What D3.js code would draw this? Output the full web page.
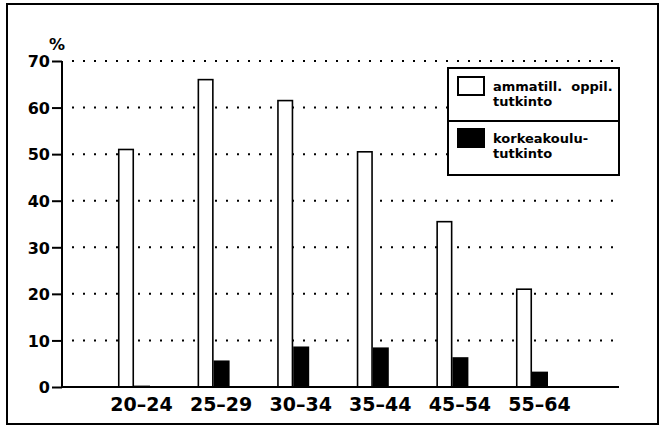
<!DOCTYPE html>
<html>
<head>
<meta charset="utf-8">
<script src="https://cdn.jsdelivr.net/npm/d3@7"></script>
<style>
  html, body { margin: 0; padding: 0; background: #fff; }
  svg { display: block; }
  text { font-family: "DejaVu Sans", sans-serif; font-weight: bold; fill: #000; }
</style>
</head>
<body>
<svg id="chart" width="661" height="427"></svg>
<script>
// ---- data ----
const categories = ["20-24", "25-29", "30-34", "35-44", "45-54", "55-64"];
const seriesNames = ["ammatill. oppil. tutkinto", "korkeakoulu-tutkinto"];
const vocational = [51, 66, 61.5, 50.5, 35.5, 21];
const university = [0.3, 5.7, 8.7, 8.5, 6.4, 3.3];
const yTicks = [0, 10, 20, 30, 40, 50, 60, 70];
const legendLines = [["ammatill.  oppil.", "tutkinto"], ["korkeakoulu-", "tutkinto"]];
const yUnit = "%";

const svg = d3.select("#chart");

// outer frame
svg.append("rect").attr("x", 7).attr("y", 4).attr("width", 651).attr("height", 420)
  .attr("fill", "none").attr("stroke", "#000").attr("stroke-width", 2);

const x = d3.scaleBand().domain(categories).range([118, 548]).paddingInner(0.598).paddingOuter(0);
const xs = d3.scaleBand().domain(seriesNames).range([0, x.bandwidth()]);
const y = d3.scaleLinear().domain([0, 70]).range([387, 61]);

// dotted grid
svg.append("g").selectAll("line").data(yTicks.filter(d => d > 0)).join("line")
  .attr("x1", 72).attr("x2", 616)
  .attr("y1", d => y(d)).attr("y2", d => y(d))
  .attr("stroke", "#000").attr("stroke-width", 2)
  .attr("stroke-dasharray", "2 9");

// bars
const rows = categories.map((c, i) => ({ c, v: [vocational[i], university[i]] }));
const g = svg.append("g");
rows.forEach(r => {
  r.v.forEach((v, j) => {
    const s = seriesNames[j];
    g.append("rect")
      .attr("x", x(r.c) + xs(s) + (j === 0 ? 0.75 : 0))
      .attr("y", y(v))
      .attr("width", xs.bandwidth() - (j === 0 ? 1.5 : 0))
      .attr("height", y(0) - y(v))
      .attr("fill", j === 0 ? "#fff" : "#000")
      .attr("stroke", j === 0 ? "#000" : "none")
      .attr("stroke-width", 1.6);
  });
});

// y axis
const yAxis = d3.axisLeft(y).tickValues(yTicks).tickSize(10).tickPadding(2).tickFormat(d3.format("d"));
const yg = svg.append("g").attr("transform", "translate(62,0)").call(yAxis);
yg.select(".domain").remove();
yg.selectAll(".tick line").attr("stroke", "#000").attr("stroke-width", 2);
yg.selectAll(".tick text").style("font-size", "16px").style("font-family", '"DejaVu Sans", sans-serif')
  .style("font-weight", "bold").attr("dy", "0.36em");
svg.append("line").attr("x1", 62).attr("x2", 62).attr("y1", y(70)).attr("y2", y(0))
  .attr("stroke", "#000").attr("stroke-width", 2);

// x axis
svg.append("line").attr("x1", 61).attr("x2", 619).attr("y1", y(0)).attr("y2", y(0))
  .attr("stroke", "#000").attr("stroke-width", 2);
const xAxis = d3.axisBottom(x).tickSize(0).tickPadding(0);
const xg = svg.append("g").attr("transform", `translate(7.5,${y(0)})`).call(xAxis);
xg.select(".domain").remove();
xg.selectAll(".tick text").text(d => d.replace("-", "\u2013"))
  .style("font-size", "19px").style("font-family", '"DejaVu Sans", sans-serif')
  .style("font-weight", "bold").attr("y", 24).attr("dy", 0);

// unit
svg.append("text").attr("x", 57).attr("y", 50).attr("text-anchor", "middle")
  .style("font-size", "16px").text(yUnit);

// legend
const lg = svg.append("g");
lg.append("rect").attr("x", 448).attr("y", 68).attr("width", 171).attr("height", 107)
  .attr("fill", "#fff").attr("stroke", "#000").attr("stroke-width", 2);
lg.append("line").attr("x1", 448).attr("x2", 619).attr("y1", 121).attr("y2", 121)
  .attr("stroke", "#000").attr("stroke-width", 2);
const legY = [77, 129];
seriesNames.forEach((s, j) => {
  lg.append("rect").attr("x", 458).attr("y", legY[j]).attr("width", 26).attr("height", 18)
    .attr("fill", j === 0 ? "#fff" : "#000").attr("stroke", "#000").attr("stroke-width", 2);
  legendLines[j].forEach((t, k) => {
    lg.append("text").attr("x", 493).attr("y", legY[j] + 14 + k * 15)
      .style("font-size", "13px").attr("xml:space", "preserve").text(t);
  });
});
</script>
</body>
</html>
